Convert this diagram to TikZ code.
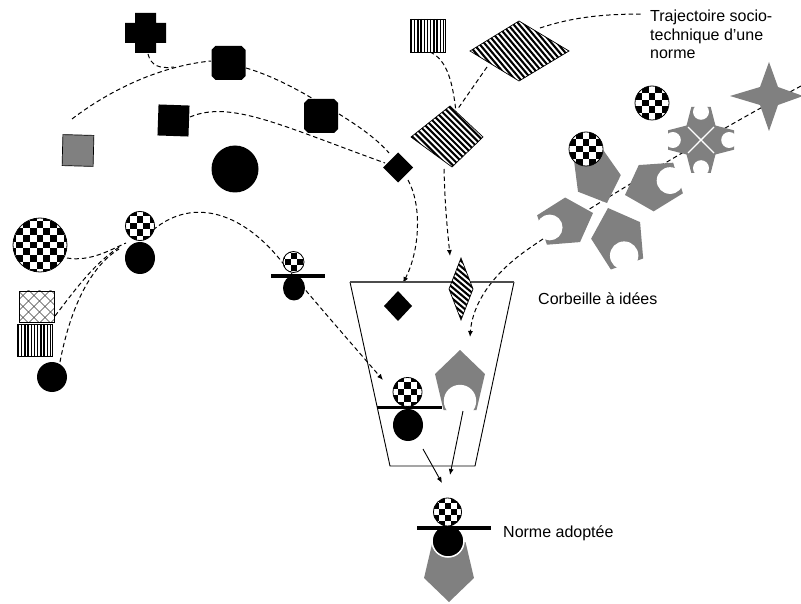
\documentclass[tikz,border=0pt]{standalone}
\usepackage{fontspec}
\setmainfont{Liberation Sans}
\usetikzlibrary{calc,arrows.meta}
\definecolor{pgray}{RGB}{128,128,128}
\tikzset{
  traj/.style={line width=1pt, dash pattern=on 4.5pt off 3pt},
  trajarrow/.style={traj, -{Latex[length=6pt,width=5pt]}},
  flow/.style={line width=0.9pt, -{Latex[length=6pt,width=5pt]}},
  txt/.style={font=\fontsize{16}{19}\selectfont, inner sep=0pt, anchor=base west},
  outline/.style={line width=0.7pt},
}

% checkered disc: centre x, centre y, radius, cell size
\newcommand\checkdisc[4]{%
  \begin{scope}
    \clip (#1,#2) circle [radius=#3];
    \fill[white] (#1,#2) circle [radius=#3];
    \foreach \i in {-5,...,4}{%
      \foreach \j in {-5,...,4}{%
        \pgfmathtruncatemacro\cellsum{\i+\j+20}%
        \ifodd\cellsum
          \fill ({#1+(\i-0.5)*#4},{#2+(\j-0.5)*#4}) rectangle ++(#4,#4);
        \fi
      }%
    }%
  \end{scope}
  \draw[line width=0.8pt] (#1,#2) circle [radius=#3];
}

% box with vertical stripes: x0, y0, x1, y1, number of stripes
\newcommand\vstripes[5]{%
  \fill[white] (#1,#2) rectangle (#3,#4);
  \begin{scope}
    \clip (#1,#2) rectangle (#3,#4);
    \pgfmathsetmacro\stripestep{(#3-#1)/#5}
    \foreach \u in {1,...,#5}
      \draw[line width=1.3pt] ({#1+(\u-0.5)*\stripestep},#2) -- ({#1+(\u-0.5)*\stripestep},#4);
  \end{scope}
  \draw[outline] (#1,#2) rectangle (#3,#4);
}

% polygon with diagonal stripes: outline path, centre, angle
\newcommand\dstripes[3]{%
  \fill[white] #1;
  \begin{scope}
    \clip #1;
    \begin{scope}[shift={#2}, rotate=#3]
      \foreach \u in {0,...,40}
        \draw[line width=2.1pt] ({(\u-20)*4.3},-90) -- ({(\u-20)*4.3},90);
    \end{scope}
  \end{scope}
  \draw[outline] #1;
}

% pentagonal grey piece: base centre, tip, width factor
\newcommand\gpiece[3]{%
  \fill[pgray] ($(#1)!{#3*0.275}!90:(#2)$) -- ($(#1)!0.6!(#2)!{#3*1.04}!90:(#2)$) -- (#2)
    -- ($(#1)!0.6!(#2)!{#3*1.04}!-90:(#2)$) -- ($(#1)!{#3*0.275}!-90:(#2)$) -- cycle;
}
% round notch at the base of a piece: base centre, tip, radius factor
\newcommand\gbite[3]{%
  \fill[white] let \p1=($(#2)-(#1)$), \n1={veclen(\x1,\y1)} in
    ($(#1)!0.15!(#2)$) circle [radius=#3*\n1];
}

\begin{document}
\begin{tikzpicture}[x=1pt,y=-1pt]
\fill[white] (0,0) rectangle (801,604);
\useasboundingbox (0,0) rectangle (801,604);

% ---------- trajectories ----------
\draw[traj] (148,54) .. controls (151,66) and (160,69) .. (174,67);
\draw[traj] (72,119) .. controls (110,90) and (160,66) .. (211,61);
\draw[traj] (246,68) .. controls (270,75) and (295,88) .. (315,100);
\draw[traj] (339,114) .. controls (360,127) and (378,140) .. (389,153);
\draw[traj] (190,117) .. controls (230,100) and (280,125) .. (385,163);
\draw[trajarrow] (408,180) .. controls (422,205) and (420,250) .. (403,283);

\draw[traj] (430,52) .. controls (448,60) and (453,85) .. (456,112);
\draw[traj] (487,67) -- (457,110);
\draw[trajarrow] (444,169) .. controls (445,210) and (448,235) .. (450,256);
\draw[traj] (540,28) .. controls (570,18) and (600,14) .. (642,14);

\draw[trajarrow] (801,86) .. controls (700,140) and (560,225) .. (520,255)
  .. controls (485,282) and (472,310) .. (470,337);

\draw[traj] (67,258) .. controls (90,262) and (110,250) .. (126,243);
\draw[traj] (55,316) .. controls (75,290) and (95,262) .. (121,246);
\draw[traj] (60,362) .. controls (68,320) and (85,270) .. (119,249);
\draw[trajarrow] (153,230) .. controls (195,195) and (245,215) .. (282,262)
  .. controls (310,296) and (350,342) .. (383,380);

% ---------- black shapes, top left ----------
\fill (135,13) -- (156,13) -- (156,23) -- (166,23) -- (166,43) -- (156,43) -- (156,53)
  -- (135,53) -- (135,43) -- (125,43) -- (125,23) -- (135,23) -- cycle;
\fill (215.5,46) -- (241.5,46) -- (245.5,50) -- (245.5,76) -- (241.5,80) -- (215.5,80) -- (211.5,76) -- (211.5,50) -- cycle;
\fill (308,99) -- (334,99) -- (338,103) -- (338,129) -- (334,133) -- (308,133) -- (304,129) -- (304,103) -- cycle;
\fill[rotate around={-2:(173.5,120.5)}] (158,105) rectangle (189,136);
\filldraw[fill=pgray, outline, rotate around={-1.5:(78,150.5)}] (62.5,135) rectangle (93.5,166);
\fill (235,169) circle [radius=23.5];
\fill (398,152.5) -- (413,167.5) -- (398,182.5) -- (383,167.5) -- cycle;

% ---------- striped shapes ----------
\vstripes{410}{19}{445}{52}{11}
\dstripes{(470,51) -- (519,21) -- (569,51) -- (519,81) -- cycle}{(519,51)}{40}
\dstripes{(450,106) -- (483,137) -- (452,167) -- (411,137) -- cycle}{(449,137)}{45}

% ---------- left group ----------
\checkdisc{40}{245}{27}{6.75}
\fill[white] (19,291) rectangle (54,322);
\begin{scope}
  \clip (19,291) rectangle (54,322);
  \foreach \u in {0,...,10}{
    \draw[line width=0.7pt, black!75] ({14+11*(\u-5)},326.5) -- ++(45,-45);
    \draw[line width=0.7pt, black!75] ({14+11*(\u-5)},286.5) -- ++(45,45);
  }
\end{scope}
\draw[outline] (19,291) rectangle (54,322);
\vstripes{17}{324}{52}{356}{11}
\fill (52,377) circle [radius=15];

% small figures
\fill (140,258) ellipse [x radius=15, y radius=16];
\checkdisc{140}{226}{14.5}{6.4}
\fill (294,288) ellipse [x radius=11, y radius=12.5];
\fill (271,274) rectangle (325,278);
\checkdisc{293.5}{262}{10.5}{6}

% ---------- grey shapes, right ----------
\checkdisc{652}{103}{17}{6.8}
\fill[pgray] (769,62) -- (778,87) -- (803,96) -- (778,105) -- (769,131) -- (760,105)
  -- (730,96) -- (760,87) -- cycle;

\gpiece{701,107}{701,139}{1.1}
\gpiece{734,140}{702,140}{1.1}
\gpiece{701,173}{701,141}{1.1}
\gpiece{668,140}{700,140}{1.1}
\gbite{701,107}{701,139}{0.25}
\gbite{734,140}{702,140}{0.25}
\gbite{701,173}{701,141}{0.25}
\gbite{668,140}{700,140}{0.25}
\draw[white, line width=1.3pt] (688,127) -- (714,153) (714,127) -- (688,153);

\gpiece{588,154}{607,203}{1.05}
\gpiece{678,178}{625,195}{1.05}
\gpiece{542,230}{593,213}{1.05}
\gpiece{627,264}{608,208}{1.05}
\gbite{678,178}{625,195}{0.24}
\gbite{542,230}{593,213}{0.24}
\gbite{627,264}{608,208}{0.24}
\checkdisc{586}{149}{17}{6.8}

% ---------- basket ----------
\draw[line width=0.9pt] (350,282) -- (390,466) -- (475,466) -- (514,282);
\draw[line width=1.8pt, black!70] (350,282) -- (514,282);
\fill (398,291) -- (412,306) -- (398,321) -- (384,306) -- cycle;
\dstripes{(461,258) -- (473,289) -- (461,320) -- (449,289) -- cycle}{(461,289)}{50}
\gpiece{460,410}{460,350}{1}
\gbite{460,410}{460,350}{0.27}
\fill (408,425) ellipse [x radius=15, y radius=16];
\fill (377,405.5) rectangle (442,409);
\checkdisc{407.5}{392}{14.5}{6.4}

\draw[flow] (423,449) -- (442,483);
\draw[flow] (463,411) -- (450,475);

% ---------- adopted norm ----------
\gpiece{449,542}{449,602}{1}
\filldraw[fill=black, draw=white, line width=1.5pt] (448,541) circle [radius=16];
\fill (417,526) rectangle (491,529.5);
\checkdisc{447.5}{512}{14}{6}

% ---------- labels ----------
\node[txt] (trajA) at (650,21.5) {Trajectoire socio-};
\node[txt] (trajB) at (650,40.3) {technique d’une};
\node[txt] (trajC) at (650,59) {norme};
\node[txt] (basket) at (538,305) {Corbeille à idées};
\node[txt] (adopted) at (503,537.5) {Norme adoptée};
\end{tikzpicture}
\end{document}
